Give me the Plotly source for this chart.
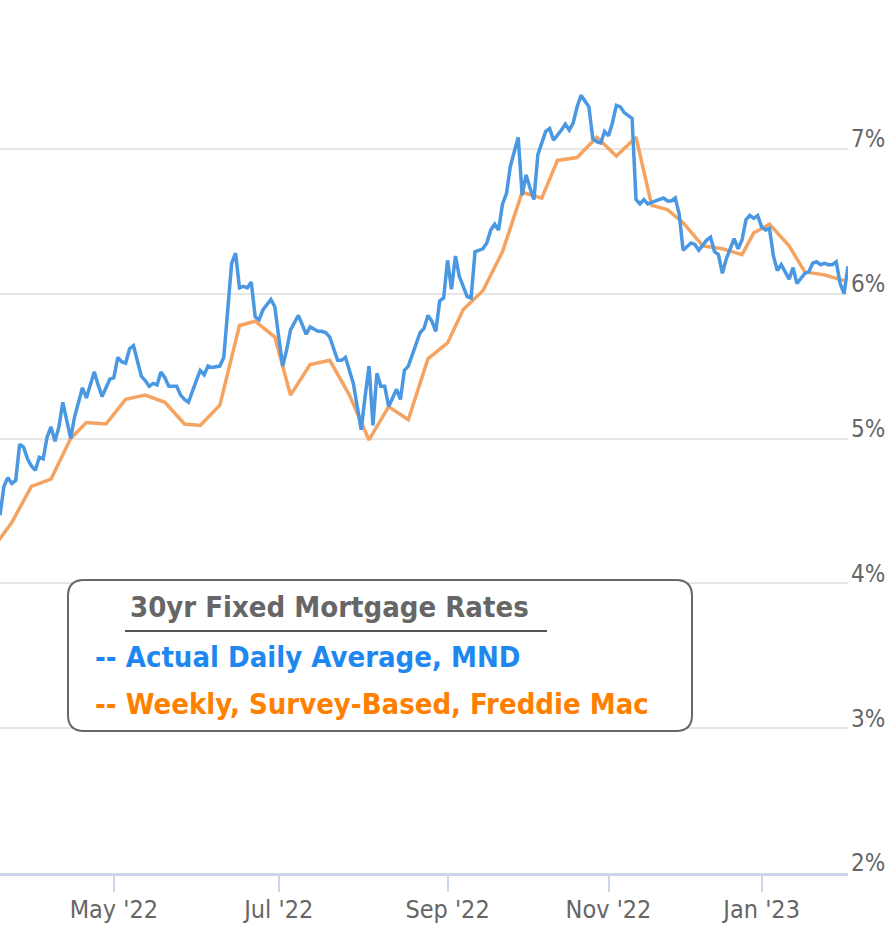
import plotly.graph_objects as go

# ---------------- data ----------------
mnd_dates = [
    "2022-03-21","2022-03-22","2022-03-23","2022-03-24","2022-03-25","2022-03-28","2022-03-29","2022-03-30","2022-03-31",
    "2022-04-01","2022-04-04","2022-04-05","2022-04-06","2022-04-07","2022-04-08","2022-04-11","2022-04-12","2022-04-13",
    "2022-04-14","2022-04-18","2022-04-20","2022-04-21","2022-04-22","2022-04-25","2022-04-26","2022-04-27","2022-04-28",
    "2022-04-29","2022-05-02","2022-05-03","2022-05-04","2022-05-05","2022-05-06","2022-05-09","2022-05-11","2022-05-12",
    "2022-05-13","2022-05-16","2022-05-17","2022-05-18","2022-05-19","2022-05-20","2022-05-24","2022-05-25","2022-05-26",
    "2022-05-27","2022-06-01","2022-06-02","2022-06-03","2022-06-06","2022-06-07","2022-06-09","2022-06-10","2022-06-14",
    "2022-06-15","2022-06-16","2022-06-17","2022-06-21","2022-06-22","2022-06-23","2022-06-24","2022-06-27","2022-06-29",
    "2022-06-30","2022-07-01","2022-07-05","2022-07-06","2022-07-07","2022-07-11","2022-07-12","2022-07-13","2022-07-14",
    "2022-07-18","2022-07-19","2022-07-20","2022-07-21","2022-07-25","2022-07-26","2022-07-27","2022-07-29","2022-08-01",
    "2022-08-02","2022-08-03","2022-08-04","2022-08-05","2022-08-08","2022-08-09","2022-08-10","2022-08-11","2022-08-12",
    "2022-08-15","2022-08-16","2022-08-17","2022-08-18","2022-08-19","2022-08-23","2022-08-24","2022-08-25","2022-08-26",
    "2022-08-29","2022-08-30","2022-08-31","2022-09-01","2022-09-02","2022-09-06","2022-09-07","2022-09-09","2022-09-12",
    "2022-09-13","2022-09-15","2022-09-16","2022-09-19","2022-09-20","2022-09-21","2022-09-22","2022-09-23","2022-09-26",
    "2022-09-28","2022-09-29","2022-09-30","2022-10-03","2022-10-04","2022-10-05","2022-10-06","2022-10-07","2022-10-11",
    "2022-10-12","2022-10-14","2022-10-17","2022-10-18","2022-10-19","2022-10-20","2022-10-21","2022-10-24","2022-10-25",
    "2022-10-26","2022-10-27","2022-10-28","2022-10-31","2022-11-01","2022-11-02","2022-11-03","2022-11-04","2022-11-07",
    "2022-11-08","2022-11-09","2022-11-10","2022-11-14","2022-11-15","2022-11-16","2022-11-18","2022-11-22","2022-11-23",
    "2022-11-28","2022-11-29","2022-11-30","2022-12-01","2022-12-05","2022-12-06","2022-12-07","2022-12-09","2022-12-12",
    "2022-12-13","2022-12-14","2022-12-15","2022-12-16","2022-12-20","2022-12-21","2022-12-22","2022-12-27","2022-12-28",
    "2022-12-29","2022-12-30","2023-01-03","2023-01-04","2023-01-05","2023-01-06","2023-01-09","2023-01-10","2023-01-11",
    "2023-01-12","2023-01-13","2023-01-17","2023-01-19","2023-01-20","2023-01-23","2023-01-24","2023-01-25","2023-01-26",
    "2023-01-27","2023-01-30","2023-01-31","2023-02-01","2023-02-02","2023-02-03",
]
mnd_rates = [
    4.47,4.67,4.73,4.69,4.71,4.96,4.94,4.86,4.81,
    4.78,4.87,4.86,5.01,5.08,4.98,5.08,5.25,5.13,
    5.00,5.15,5.35,5.28,5.37,5.46,5.37,5.29,5.35,
    5.41,5.42,5.56,5.53,5.52,5.62,5.64,5.43,5.40,
    5.36,5.38,5.37,5.46,5.42,5.36,5.36,5.30,5.27,
    5.25,5.40,5.47,5.44,5.50,5.49,5.50,5.56,6.21,
    6.28,6.04,6.05,6.04,6.08,5.84,5.82,5.89,5.96,
    5.91,5.70,5.50,5.61,5.75,5.85,5.78,5.72,5.77,
    5.74,5.74,5.73,5.70,5.54,5.54,5.56,5.38,5.20,
    5.06,5.29,5.50,5.09,5.45,5.36,5.36,5.22,5.28,
    5.34,5.27,5.47,5.50,5.58,5.73,5.76,5.85,5.81,
    5.74,5.95,5.97,6.23,6.03,6.26,6.12,5.98,5.97,
    6.29,6.31,6.35,6.44,6.48,6.44,6.62,6.69,6.88,
    7.08,6.68,6.82,6.73,6.65,6.96,7.04,7.12,7.14,
    7.06,7.13,7.17,7.13,7.18,7.29,7.37,7.33,7.29,
    7.07,7.05,7.04,7.12,7.09,7.18,7.30,7.29,7.25,
    7.23,7.21,6.65,6.62,6.65,6.62,6.64,6.66,6.64,
    6.64,6.66,6.55,6.30,6.35,6.34,6.30,6.37,6.39,
    6.29,6.27,6.14,6.24,6.38,6.31,6.37,6.51,6.54,
    6.52,6.54,6.46,6.44,6.45,6.26,6.16,6.20,6.15,
    6.10,6.18,6.07,6.14,6.15,6.21,6.22,6.20,6.21,
    6.20,6.20,6.22,6.07,6.00,6.19,
]

fm_dates = [
    "2022-03-17","2022-03-24","2022-03-31","2022-04-07","2022-04-14","2022-04-21","2022-04-28",
    "2022-05-05","2022-05-12","2022-05-19","2022-05-26","2022-06-02","2022-06-09","2022-06-16",
    "2022-06-23","2022-06-30","2022-07-07","2022-07-14","2022-07-21","2022-07-28","2022-08-04",
    "2022-08-11","2022-08-18","2022-08-25","2022-09-01","2022-09-08","2022-09-15","2022-09-22",
    "2022-09-29","2022-10-06","2022-10-13","2022-10-20","2022-10-27","2022-11-03","2022-11-10",
    "2022-11-17","2022-11-23","2022-12-01","2022-12-08","2022-12-15","2022-12-22","2022-12-29",
    "2023-01-05","2023-01-12","2023-01-19","2023-01-26","2023-02-02",
]
fm_rates = [
    4.16,4.42,4.67,4.72,5.00,5.11,5.10,
    5.27,5.30,5.25,5.10,5.09,5.23,5.78,
    5.81,5.70,5.30,5.51,5.54,5.30,4.99,
    5.22,5.13,5.55,5.66,5.89,6.02,6.29,
    6.70,6.66,6.92,6.94,7.08,6.95,7.08,
    6.61,6.58,6.49,6.33,6.31,6.27,6.42,
    6.48,6.33,6.15,6.13,6.09,
]

holidays = ["2022-04-15","2022-05-30","2022-06-20","2022-07-04","2022-09-05","2022-10-10",
            "2022-11-11","2022-11-24","2022-11-25","2022-12-23","2022-12-26","2023-01-02","2023-01-16"]

x_tick_vals = ["2022-05-02","2022-07-01","2022-09-01","2022-11-01","2023-01-03"]
x_tick_text = ["May '22","Jul '22","Sep '22","Nov '22","Jan '23"]
y_tick_vals = [2,3,4,5,6,7,8]
y_tick_text = ["2%","3%","4%","5%","6%","7%",""]

legend_title = "30yr Fixed Mortgage Rates"
legend_mnd = "-- Actual Daily Average, MND"
legend_fm = "-- Weekly, Survey-Based, Freddie Mac"

# ---------------- figure ----------------
W, H = 885, 926
ML, MR, MT, MB = 0, 37, 4, 53
PW, PH = W - ML - MR, H - MT - MB
FONT = "DejaVu Sans Condensed, Liberation Sans Narrow, DejaVu Sans, sans-serif"

def px(x, y):
    return (x - ML) / PW, (H - MB - y) / PH

fig = go.Figure()
fig.add_trace(go.Scatter(x=fm_dates, y=fm_rates, mode="lines",
                         line=dict(color="#f4a460", width=3.5), name="Freddie Mac"))
fig.add_trace(go.Scatter(x=mnd_dates, y=mnd_rates, mode="lines",
                         line=dict(color="#4a98e2", width=3.5), name="MND"))

# rounded legend box
x0, x1, y0, y1, r = 68, 692, 580, 731, 16
def P(x, y):
    a, b = px(x, y)
    return f"{a:.5f},{b:.5f}"
path = (f"M {P(x0+r,y0)} L {P(x1-r,y0)} Q {P(x1,y0)} {P(x1,y0+r)} "
        f"L {P(x1,y1-r)} Q {P(x1,y1)} {P(x1-r,y1)} "
        f"L {P(x0+r,y1)} Q {P(x0,y1)} {P(x0,y1-r)} "
        f"L {P(x0,y0+r)} Q {P(x0,y0)} {P(x0+r,y0)} Z")
fig.add_shape(type="path", path=path, xref="paper", yref="paper",
              line=dict(color="#666666", width=2), fillcolor="white", layer="above")
ux0, uy = px(125, 631)
ux1, _ = px(547, 631)
fig.add_shape(type="line", xref="paper", yref="paper", x0=ux0, x1=ux1, y0=uy, y1=uy,
              line=dict(color="#555555", width=2), layer="above")

def ann(text, x, y, color):
    a, b = px(x, y)
    fig.add_annotation(text=f"<b>{text}</b>", x=a, y=b, xref="paper", yref="paper",
                       xanchor="left", yanchor="middle", showarrow=False,
                       font=dict(family=FONT, size=29, color=color))

ann(legend_title, 128, 607, "#666666")
ann(legend_mnd, 93, 657, "#1e88f0")
ann(legend_fm, 93, 704, "#ff8000")

fig.update_layout(
    width=W, height=H,
    margin=dict(l=ML, r=MR, t=MT, b=MB, pad=0),
    paper_bgcolor="white", plot_bgcolor="white",
    showlegend=False,
    font=dict(family=FONT, color="#666666"),
    xaxis=dict(
        type="date",
        range=["2022-03-21", "2023-02-03"],
        rangebreaks=[dict(bounds=["sat", "mon"]), dict(values=holidays)],
        tickvals=x_tick_vals, ticktext=x_tick_text,
        ticks="outside", ticklen=16, tickwidth=1.5, tickcolor="#ccd6eb",
        ticklabelstandoff=-4,
        showgrid=False, showline=True, linecolor="#ccd6eb", linewidth=2.5,
        tickfont=dict(size=25, color="#666666"),
        zeroline=False,
    ),
    yaxis=dict(
        range=[2, 8], side="right",
        tickvals=y_tick_vals, ticktext=y_tick_text,
        ticklabelposition="outside",
        ticklabelshift=-10,
        ticklabelstandoff=2,
        showgrid=True, gridcolor="#e6e6e6", gridwidth=2,
        tickfont=dict(size=24, color="#666666"),
        zeroline=False, showline=False, ticks="",
    ),
)

fig.write_html("out.html", config={"displayModeBar": False},
               post_script="document.body.style.margin='0';document.body.style.overflow='hidden';")
